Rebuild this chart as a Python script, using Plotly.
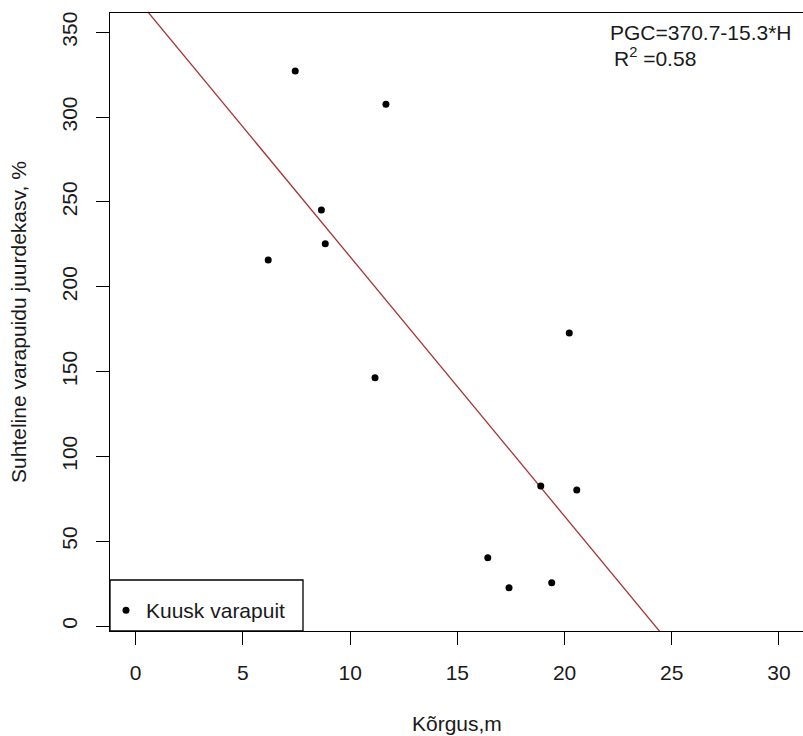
import plotly.graph_objects as go

# Data
height_m = [6.18, 7.44, 8.66, 8.84, 11.16, 11.67, 16.42, 17.41, 18.89, 19.40, 20.22, 20.57]
pgc_pct = [215.8, 327.2, 245.3, 225.4, 146.4, 307.6, 40.3, 22.6, 82.5, 25.5, 172.8, 80.2]
fit_intercept = 370.7
fit_slope = -15.3
x_ticks = [0, 5, 10, 15, 20, 25, 30]
y_ticks = [0, 50, 100, 150, 200, 250, 300, 350]
x_range = [-1.199, 31.12]
y_range = [-2.95, 361.4]

FONT = "Liberation Sans, Arial, sans-serif"
TXT = "#1a1a1a"
FS = 21

fit_x = [x_range[0], x_range[1]]
fit_y = [fit_intercept + fit_slope * v for v in fit_x]

fig = go.Figure()
fig.add_trace(go.Scatter(
    x=fit_x, y=fit_y, mode="lines",
    line=dict(color="#a83232", width=1.3),
    showlegend=False, hoverinfo="skip",
))
fig.add_trace(go.Scatter(
    x=height_m, y=pgc_pct, mode="markers",
    marker=dict(color="black", size=7),
    name="Kuusk varapuit", showlegend=True,
))

axis_common = dict(
    showgrid=False, zeroline=False, showline=True, linecolor="black", linewidth=1.3,
    ticks="outside", ticklen=13, tickwidth=1.3, tickcolor="black",
    tickfont=dict(family=FONT, size=FS, color=TXT),
)

fig.update_layout(
    width=803, height=736,
    margin=dict(l=110, r=0, t=13, b=105),
    paper_bgcolor="white", plot_bgcolor="white",
    font=dict(family=FONT, size=FS, color=TXT),
    xaxis=dict(range=x_range, tickvals=x_ticks, mirror=True, ticklabelstandoff=10, **axis_common),
    yaxis=dict(range=y_range, tickvals=y_ticks, tickangle=-90, ticklabelstandoff=10, **axis_common),
    legend=dict(
        x=-4 / 693, y=0, xanchor="left", yanchor="bottom",
        borderwidth=0, bgcolor="rgba(0,0,0,0)",
        font=dict(family=FONT, size=FS, color=TXT),
        itemwidth=30,
    ),
    shapes=[
        dict(type="rect", xref="paper", yref="paper",
             xsizemode="pixel", ysizemode="pixel", xanchor=0, yanchor=0,
             x0=0, x1=193, y0=0, y1=51,
             line=dict(color="black", width=1.3), fillcolor="white", layer="above"),
    ],
    annotations=[
        dict(text="Kõrgus,m", xref="paper", yref="paper", x=0.5, y=0,
             xanchor="center", yanchor="middle", yshift=-92, showarrow=False,
             font=dict(family=FONT, size=FS, color=TXT)),
        dict(text="Suhteline varapuidu juurdekasv, %", xref="paper", yref="paper", x=0, y=0.5,
             xanchor="center", yanchor="middle", xshift=-92, textangle=-90, showarrow=False,
             font=dict(family=FONT, size=FS, color=TXT)),
        dict(text="PGC=370.7-15.3*H", xref="paper", yref="paper", x=(607.5 - 110) / 693, y=1,
             xanchor="left", yanchor="middle", yshift=-19, showarrow=False,
             font=dict(family=FONT, size=FS, color=TXT)),
        dict(text="R<sup>2</sup> =0.58", xref="paper", yref="paper", x=(612 - 110) / 693, y=1,
             xanchor="left", yanchor="middle", yshift=-44, showarrow=False,
             font=dict(family=FONT, size=FS, color=TXT)),
    ],
)

fig.write_html("out.html")
